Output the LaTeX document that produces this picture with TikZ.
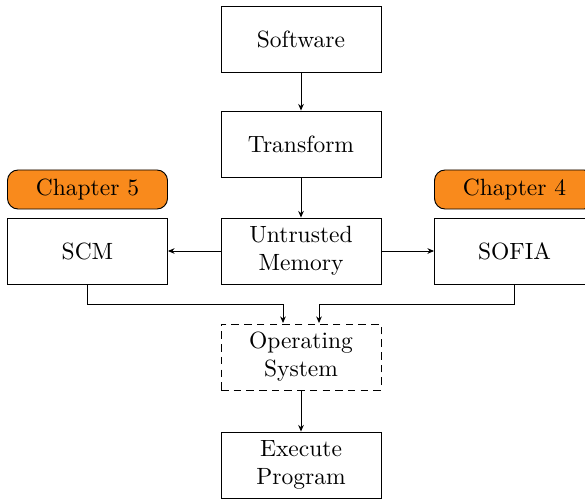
\documentclass[tikz,border=0pt]{standalone}
\usetikzlibrary{arrows.meta}
\definecolor{chaporange}{RGB}{249,138,28}
\begin{document}
\begin{tikzpicture}[x=0.4255pt, y=-0.4255pt,
  block/.style={draw, rectangle, minimum width=68.08pt, minimum height=28.08pt,
    inner sep=2pt, align=center, font=\normalsize},
  osblock/.style={block, dashed, dash pattern=on 3.2pt off 2.2pt},
  chap/.style={draw, fill=chaporange, rounded corners=4.5pt, minimum width=68.08pt,
    minimum height=16.6pt, inner sep=1pt},
  flow/.style={-{Stealth[length=2.8pt, width=2.4pt]}}]
  \useasboundingbox (0,0) rectangle (585,498);

  % main column
  \node[block] (sw) at (301,39) {Software};
  \node[block] (tf) at (301,144) {Transform};
  \node[block] (um) at (301,251) {Untrusted\\Memory};
  \node[osblock] (os) at (301,357) {Operating\\System};
  \node[block] (ex) at (301,465) {Execute\\Program};

  % side branches
  \node[block] (scm) at (87.5,251) {SCM};
  \node[block] (sofia) at (514.5,251) {SOFIA};
  \node[chap] (c5) at (87.5,189.5) {Chapter 5};
  \node[chap] (c4) at (514.5,189.5) {Chapter 4};

  % entry points on top of the OS box
  \coordinate (osl) at (283,323);
  \coordinate (osr) at (319,323);

  \draw[flow] (sw) -- (tf);
  \draw[flow] (tf) -- (um);
  \draw[flow] (um) -- (scm);
  \draw[flow] (um) -- (sofia);
  \draw[flow] (scm.south) |- (283,304) -- (osl);
  \draw[flow] (sofia.south) |- (319,304) -- (osr);
  \draw[flow] (os) -- (ex);
\end{tikzpicture}
\end{document}
